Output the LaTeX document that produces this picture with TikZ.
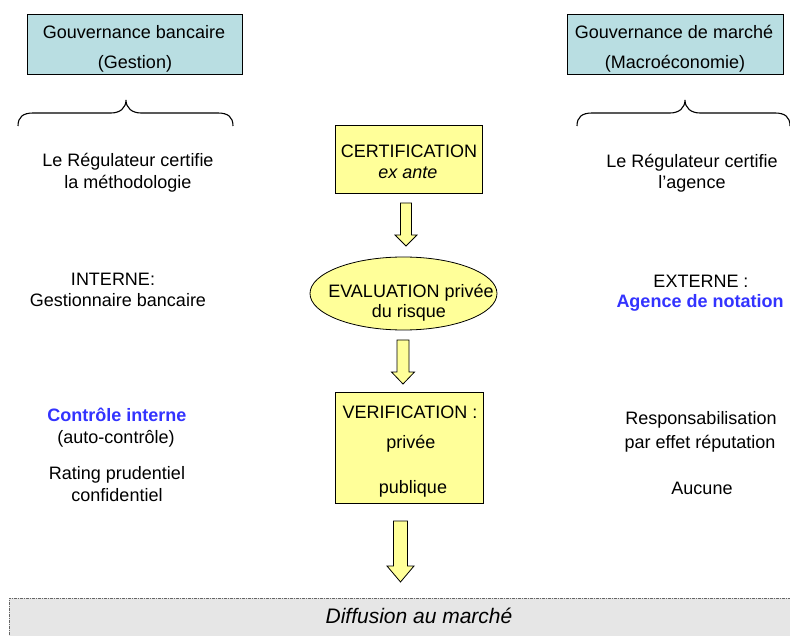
\documentclass[tikz,border=0pt]{standalone}
\usepackage{fontspec}
\setmainfont{Liberation Sans}
\usetikzlibrary{shapes.geometric,calc}
\definecolor{headfill}{RGB}{185,222,226}
\definecolor{yellowfill}{RGB}{255,255,153}
\definecolor{bluetxt}{RGB}{51,51,255}
\definecolor{bottomfill}{RGB}{230,230,230}
% #1 start coordinate, #2 tip coordinate, #3 shaft half width, #4 head half width, #5 head length
\newcommand{\blockarrow}[5]{%
  \draw[arrowbox] let \p1=(#1), \p2=(#2) in
    (\x2-#3pt,\y1) -- (\x2+#3pt,\y1) -- (\x2+#3pt,\y2+#5pt) -- (\x2+#4pt,\y2+#5pt)
    -- (\x2,\y2) -- (\x2-#4pt,\y2+#5pt) -- (\x2-#3pt,\y2+#5pt) -- cycle;}
\newcommand{\mybrace}[4]{% #1 left x, #2 tip x, #3 right x, #4 y of ends
  \draw[bracestyle] (#1,#4) .. controls (#1,#4-9) and (#1+5,#4-13) .. (#1+15,#4-13)
    -- (#2-15,#4-13) .. controls (#2-6,#4-13) and (#2,#4-18) .. (#2,#4-26)
    .. controls (#2,#4-18) and (#2+6,#4-13) .. (#2+15,#4-13)
    -- (#3-15,#4-13) .. controls (#3-5,#4-13) and (#3,#4-9) .. (#3,#4);}
\begin{document}
\begin{tikzpicture}[x=1pt,y=-1pt,
  txt/.style={anchor=base, inner sep=0pt, font=\fontsize{18}{22}\selectfont},
  bluebold/.style={anchor=base, inner sep=0pt, text=bluetxt, font=\fontsize{18}{22}\selectfont\bfseries},
  headbox/.style={draw=black, fill=headfill, line width=0.8pt, inner sep=0pt},
  ybox/.style={draw=black, fill=yellowfill, line width=0.8pt, inner sep=0pt},
  arrowbox/.style={draw=black, fill=yellowfill, line width=0.8pt, line join=miter},
  bracestyle/.style={draw=black, line width=1.1pt},
  bottombox/.style={draw=gray!80!black, fill=bottomfill, line width=0.8pt,
    dash pattern=on 3pt off 1pt on 1pt off 1pt, inner sep=0pt}]
\clip (0,0) rectangle (790,636);
\fill[white] (0,0) rectangle (790,636);

% header boxes
\node[headbox, minimum width=215pt, minimum height=60pt] (hl) at (134.5,44) {};
\node[txt] (hl1) at (134,39) {Gouvernance bancaire};
\node[txt] (hl2) at (135,69) {(Gestion)};
\node[headbox, minimum width=216pt, minimum height=60pt] (hr) at (675,44) {};
\node[txt] (hr1) at (674,39) {Gouvernance de marché};
\node[txt] (hr2) at (675,69) {(Macroéconomie)};

% braces
\mybrace{18}{126}{233}{126}
\mybrace{577}{685}{790}{126}

% left column
\node[txt] (l1) at (128,167) {Le Régulateur certifie};
\node[txt] (l2) at (128,189) {la méthodologie};
\node[txt] (l3) at (113,286) {INTERNE:};
\node[txt] (l4) at (118,307) {Gestionnaire bancaire};
\node[bluebold] (l5) at (117,421) {Contrôle interne};
\node[txt] (l6) at (116,443) {(auto-contrôle)};
\node[txt] (l7) at (117,479) {Rating prudentiel};
\node[txt] (l8) at (117,501) {confidentiel};

% right column
\node[txt] (r1) at (692,168) {Le Régulateur certifie};
\node[txt] (r2) at (692,189) {l’agence};
\node[txt] (r3) at (701,288) {EXTERNE :};
\node[bluebold] (r4) at (700,308) {Agence de notation};
\node[txt] (r5) at (701,424) {Responsabilisation};
\node[txt] (r6) at (700,448) {par effet réputation};
\node[txt] (r7) at (702,494) {Aucune};

% center column
\node[ybox, minimum width=147pt, minimum height=68pt] (cert) at (408.5,159) {};
\node[txt] (c1) at (409,158) {CERTIFICATION};
\node[txt, font=\fontsize{18}{22}\selectfont\itshape] (c2) at (408,179) {ex ante};

\node[ybox, ellipse, minimum width=187pt, minimum height=73pt] (eval) at (403.5,293.5) {};
\node[txt] (e1) at (411,298) {EVALUATION privée};
\node[txt] (e2) at (409,318) {du risque};

\node[ybox, minimum width=148pt, minimum height=111pt] (verif) at (409,447.5) {};
\node[txt] (v1) at (410,418) {VERIFICATION :};
\node[txt] (v2) at (411,448) {privée};
\node[txt] (v3) at (413,493) {publique};

\node[bottombox, minimum width=791pt, minimum height=52pt] (diff) at (404.5,624) {};
\node[txt, font=\fontsize{21}{24}\selectfont\itshape] (d1) at (419,623) {Diffusion au marché};

% arrows
\coordinate (a1s) at (406,203);
\coordinate (a1t) at (406,246);
\coordinate (a2s) at (403,340);
\coordinate (a2t) at (403,384);
\coordinate (a3s) at (400.5,521);
\coordinate (a3t) at (400.5,582);
\blockarrow{a1s}{a1t}{5.5}{11}{11}
\blockarrow{a2s}{a2t}{6}{11.5}{12}
\blockarrow{a3s}{a3t}{7}{13.5}{16}
\end{tikzpicture}
\end{document}
